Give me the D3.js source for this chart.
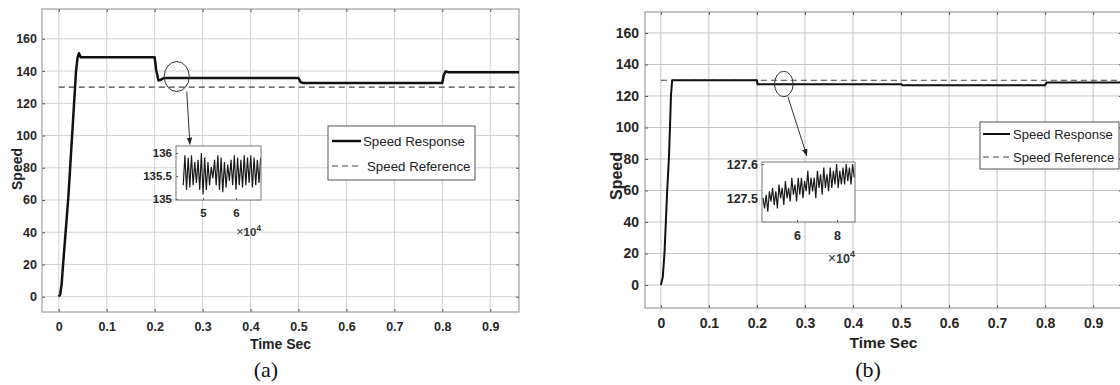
<!DOCTYPE html>
<html>
<head>
<meta charset="utf-8">
<script src="https://cdn.jsdelivr.net/npm/d3@7"></script>
<style>
body { margin: 0; background: #fff; }
svg { display: block; font-family: "Liberation Sans", Arial, sans-serif; }
</style>
</head>
<body>
<svg id="chart" width="1120" height="385"></svg>
<script>
// ---- data ----
const timeTicks = [0, 0.1, 0.2, 0.3, 0.4, 0.5, 0.6, 0.7, 0.8, 0.9];
const speedTicks = [0, 20, 40, 60, 80, 100, 120, 140, 160];
const legendLabels = ["Speed Response", "Speed Reference"];

const refTime = [0, 0.97];
const refSpeed = [130, 130];

// panel (a)
const respATime  = [0, 0.003, 0.006, 0.009, 0.02, 0.036, 0.039, 0.042, 0.046, 0.2, 0.203, 0.208, 0.212, 0.22, 0.5, 0.505, 0.51, 0.8, 0.803, 0.807, 0.812, 0.97];
const respASpeed = [0, 1.5, 8, 20, 62, 140, 148, 151, 148.5, 148.5, 141, 134.2, 134.5, 135.7, 135.7, 133, 132.6, 132.6, 137.5, 139.8, 139.3, 139.3];
const insetAXTicks = [5, 6];
const insetAYTicks = [135, 135.5, 136];
const insetAStart = 4.4, insetAStep = 0.05;
const insetAValues = [135.3, 135.95, 135.2, 135.9, 135.25, 135.95, 135.3, 135.8, 135.35, 135.85, 135.2, 136.0,
  135.1, 135.9, 135.2, 135.8, 135.3, 135.7, 135.45, 135.85, 135.3, 135.95, 135.2, 135.9, 135.15, 135.8,
  135.25, 135.75, 135.4, 135.85, 135.3, 135.95, 135.2, 135.9, 135.3, 135.85, 135.25, 135.95, 135.3, 135.9,
  135.35, 135.95, 135.25, 135.9, 135.3, 135.85, 135.35, 135.9];

// panel (b)
const respBTime  = [0, 0.004, 0.0075, 0.0104, 0.0132, 0.0167, 0.019, 0.021, 0.0235, 0.2, 0.201, 0.5, 0.503, 0.8, 0.803, 0.97];
const respBSpeed = [0, 5, 20, 40, 60, 80, 100, 120, 130, 130, 127.5, 127.5, 126.8, 126.8, 128.5, 128.5];
const insetBXTicks = [6, 8];
const insetBYTicks = [127.5, 127.6];
const insetBStart = 4.3, insetBStep = 0.08;
const insetBValues = [127.50, 127.47, 127.51, 127.46, 127.52, 127.49, 127.53, 127.48, 127.52, 127.47, 127.54, 127.50,
  127.53, 127.48, 127.55, 127.50, 127.53, 127.49, 127.56, 127.51, 127.54, 127.49, 127.56, 127.51, 127.56, 127.50,
  127.55, 127.52, 127.58, 127.51, 127.56, 127.52, 127.56, 127.50, 127.58, 127.53, 127.57, 127.51, 127.59, 127.53,
  127.57, 127.52, 127.59, 127.53, 127.58, 127.54, 127.60, 127.53, 127.58, 127.54, 127.59, 127.54, 127.60, 127.55,
  127.59, 127.54, 127.60, 127.56];

const svg = d3.select("#chart");
svg.append("rect").attr("width", 1120).attr("height", 385).attr("fill", "#fff");

const defs = svg.append("defs");
defs.append("marker").attr("id", "arrow").attr("viewBox", "0 0 10 10")
  .attr("refX", 10).attr("refY", 5).attr("markerWidth", 7).attr("markerHeight", 7)
  .attr("orient", "auto")
  .append("path").attr("d", "M0,1 L10,5 L0,9 Z").attr("fill", "#222");

function drawPanel(p) {
  const g = svg.append("g");
  const x = d3.scaleLinear().domain(p.xDomain).range([p.left, p.right]);
  const y = d3.scaleLinear().domain(p.yDomain).range([p.bottom, p.top]);

  defs.append("clipPath").attr("id", p.id + "-clip")
    .append("rect").attr("x", p.left).attr("y", p.top)
    .attr("width", p.right - p.left).attr("height", p.bottom - p.top);

  // grid
  g.append("g").selectAll("line").data(timeTicks).join("line")
    .attr("x1", d => x(d)).attr("x2", d => x(d))
    .attr("y1", p.top).attr("y2", p.bottom)
    .attr("stroke", p.grid).attr("stroke-width", 1);
  g.append("g").selectAll("line").data(speedTicks).join("line")
    .attr("x1", p.left).attr("x2", p.right)
    .attr("y1", d => y(d)).attr("y2", d => y(d))
    .attr("stroke", p.grid).attr("stroke-width", 1);

  // axes (ticks pointing inward, MATLAB style)
  const fmt = d => d;
  const axB = g.append("g").attr("transform", `translate(0,${p.bottom})`)
    .call(d3.axisBottom(x).tickValues(timeTicks).tickFormat(fmt).tickSize(-3).tickPadding(p.xPad));
  const axL = g.append("g").attr("transform", `translate(${p.left},0)`)
    .call(d3.axisLeft(y).tickValues(speedTicks).tickFormat(fmt).tickSize(-3).tickPadding(p.yPad));
  g.append("g").attr("transform", `translate(${p.right},0)`)
    .call(d3.axisRight(y).tickValues(speedTicks).tickFormat("").tickSize(-3));
  g.append("g").attr("transform", `translate(0,${p.top})`)
    .call(d3.axisTop(x).tickValues(timeTicks).tickFormat("").tickSize(-3));
  g.selectAll(".domain").remove();
  g.selectAll(".tick line").attr("stroke", "#555");
  [axB, axL].forEach(a => a.selectAll("text")
    .attr("font-size", p.tickFont).attr("font-weight", "bold").attr("fill", "#262626")
    .attr("font-family", "Liberation Sans, Arial, sans-serif"));

  g.append("rect").attr("x", p.left).attr("y", p.top)
    .attr("width", p.right - p.left).attr("height", p.bottom - p.top)
    .attr("fill", "none").attr("stroke", "#8c8c8c").attr("stroke-width", 1);

  // series
  const line = d3.line().x(d => x(d[0])).y(d => y(d[1]));
  const plot = g.append("g").attr("clip-path", `url(#${p.id}-clip)`);
  plot.append("path").datum(d3.zip(refTime, refSpeed))
    .attr("d", line).attr("fill", "none").attr("stroke", "#444")
    .attr("stroke-width", 1.1).attr("stroke-dasharray", "6,4");
  plot.append("path").datum(d3.zip(p.respTime, p.respSpeed))
    .attr("d", line).attr("fill", "none").attr("stroke", "#111")
    .attr("stroke-width", p.lineWidth).attr("stroke-linejoin", "round");

  // axis titles
  g.append("text").attr("x", (p.left + p.right) / 2).attr("y", p.xTitleY)
    .attr("text-anchor", "middle").attr("font-weight", "bold")
    .attr("font-size", p.titleFont).attr("fill", "#222").text("Time Sec");
  g.append("text")
    .attr("transform", `translate(${p.yTitleX},${p.yTitleY}) rotate(-90)`)
    .attr("text-anchor", "middle").attr("dominant-baseline", "central")
    .attr("font-weight", "bold").attr("font-size", p.yTitleFont).attr("fill", "#222").text("Speed");
  g.append("text").attr("x", p.capX).attr("y", p.capY).attr("text-anchor", "middle")
    .attr("font-family", "Liberation Serif, Times New Roman, serif")
    .attr("font-size", 22).attr("fill", "#111").text(p.caption);

  // zoom circle and arrow
  g.append("ellipse").attr("cx", x(p.circle[0])).attr("cy", y(p.circle[1]))
    .attr("rx", p.circleR[0]).attr("ry", p.circleR[1])
    .attr("fill", "none").attr("stroke", "#333").attr("stroke-width", 1);
  g.append("line").attr("x1", x(p.arrow[0])).attr("y1", y(p.arrow[1]))
    .attr("x2", x(p.arrow[2])).attr("y2", y(p.arrow[3]))
    .attr("stroke", "#333").attr("stroke-width", 1).attr("marker-end", "url(#arrow)");

  // inset
  const ins = p.inset;
  const ix = d3.scaleLinear().domain(ins.xDomain).range([ins.left, ins.right]);
  const iy = d3.scaleLinear().domain(ins.yDomain).range([ins.bottom, ins.top]);
  const ig = g.append("g");
  ig.append("rect").attr("x", ins.left).attr("y", ins.top)
    .attr("width", ins.right - ins.left).attr("height", ins.bottom - ins.top)
    .attr("fill", "#fff");
  defs.append("clipPath").attr("id", p.id + "-iclip")
    .append("rect").attr("x", ins.left).attr("y", ins.top)
    .attr("width", ins.right - ins.left).attr("height", ins.bottom - ins.top);
  const insetPts = ins.values.map((v, i) => [ins.start + i * ins.step, v]);
  ig.append("path").datum(insetPts).attr("clip-path", `url(#${p.id}-iclip)`)
    .attr("d", d3.line().x(d => ix(d[0])).y(d => iy(d[1])))
    .attr("fill", "none").attr("stroke", "#1a1a1a").attr("stroke-width", 1.2);
  const ib = ig.append("g").attr("transform", `translate(0,${ins.bottom})`)
    .call(d3.axisBottom(ix).tickValues(ins.xTicks).tickFormat(d => d).tickSize(-2).tickPadding(ins.xPad));
  const il = ig.append("g").attr("transform", `translate(${ins.left},0)`)
    .call(d3.axisLeft(iy).tickValues(ins.yTicks).tickFormat(d => d).tickSize(-2).tickPadding(4));
  ig.selectAll(".domain").remove();
  ig.selectAll(".tick line").attr("stroke", "#555");
  [ib, il].forEach(a => a.selectAll("text")
    .attr("font-size", ins.font).attr("font-weight", "bold").attr("fill", "#262626")
    .attr("font-family", "Liberation Sans, Arial, sans-serif"));
  ig.append("rect").attr("x", ins.left).attr("y", ins.top)
    .attr("width", ins.right - ins.left).attr("height", ins.bottom - ins.top)
    .attr("fill", "none").attr("stroke", "#777").attr("stroke-width", 1);
  const exp = ig.append("text").attr("x", ins.right).attr("y", ins.expY)
    .attr("text-anchor", "end").attr("font-size", ins.font).attr("fill", "#333");
  exp.append("tspan").attr("font-size", ins.font * 1.1).text("\u00d7");
  exp.append("tspan").attr("font-weight", "bold").text("10");
  exp.append("tspan").attr("font-weight", "bold").attr("font-size", ins.font * 0.72)
    .attr("dy", -ins.font * 0.45).text("4");

  // legend
  const L = p.legend;
  const lg = g.append("g");
  lg.append("rect").attr("x", L.left).attr("y", L.top)
    .attr("width", L.right - L.left).attr("height", L.bottom - L.top)
    .attr("fill", "#fff").attr("stroke", "#555").attr("stroke-width", 1);
  legendLabels.forEach((lab, i) => {
    const ly = L.rows[i];
    lg.append("line").attr("x1", L.lineX[0]).attr("x2", L.lineX[1])
      .attr("y1", ly).attr("y2", ly)
      .attr("stroke", i === 0 ? "#111" : "#444")
      .attr("stroke-width", i === 0 ? p.lineWidth : 1.1)
      .attr("stroke-dasharray", i === 0 ? null : "6,4");
    lg.append("text").attr("x", L.textX[i]).attr("y", ly)
      .attr("dominant-baseline", "central").attr("font-size", L.font)
      .attr("fill", "#222").text(lab);
  });
}

drawPanel({
  id: "a", left: 42, right: 519, top: 9, bottom: 312,
  xDomain: [-0.035, 0.96], yDomain: [-9.5, 178.5],
  grid: "#d2d2d2", xPad: 10, yPad: 5, tickFont: 12.5, titleFont: 14, yTitleFont: 14,
  xTitleY: 349, yTitleX: 17, yTitleY: 169, capX: 266, capY: 377, caption: "(a)",
  respTime: respATime, respSpeed: respASpeed, lineWidth: 2.5,
  circle: [0.246, 136.6], circleR: [12.5, 15], arrow: [0.267, 127.3, 0.2735, 94.4],
  inset: {
    left: 176, right: 261, top: 146, bottom: 200,
    xDomain: [4.18, 6.76], yDomain: [134.98, 136.15],
    xTicks: insetAXTicks, yTicks: insetAYTicks,
    start: insetAStart, step: insetAStep, values: insetAValues,
    font: 11.5, xPad: 9, expY: 236
  },
  legend: {
    left: 328, right: 475, top: 126, bottom: 180,
    rows: [141, 166], lineX: [332, 361], textX: [363, 367], font: 13.3
  }
});

drawPanel({
  id: "b", left: 645, right: 1122, top: 12, bottom: 308,
  xDomain: [-0.033, 0.96], yDomain: [-14.6, 173.3],
  grid: "#c4c4c4", xPad: 10.5, yPad: 6, tickFont: 14, titleFont: 15.5, yTitleFont: 16,
  xTitleY: 348, yTitleX: 616, yTitleY: 176, capX: 868, capY: 377, caption: "(b)",
  respTime: respBTime, respSpeed: respBSpeed, lineWidth: 2,
  circle: [0.256, 127.6], circleR: [9.3, 12.7], arrow: [0.2646, 119.4, 0.304, 81.9],
  inset: {
    left: 762, right: 855, top: 162, bottom: 222,
    xDomain: [4.25, 8.9], yDomain: [127.43, 127.606],
    xTicks: insetBXTicks, yTicks: insetBYTicks,
    start: insetBStart, step: insetBStep, values: insetBValues,
    font: 12.5, xPad: 9.5, expY: 263
  },
  legend: {
    left: 980, right: 1119, top: 122, bottom: 169,
    rows: [134, 157], lineX: [983, 1010], textX: [1013, 1013], font: 13
  }
});
</script>
</body>
</html>
